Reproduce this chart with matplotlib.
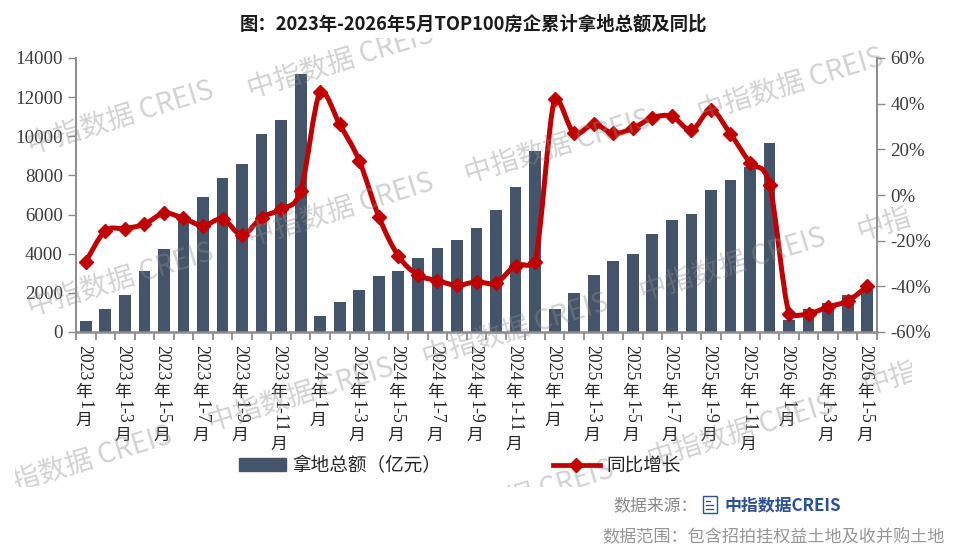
import re
import matplotlib
matplotlib.use('Agg')
from matplotlib import pyplot as plt
from matplotlib.lines import Line2D
from matplotlib.patches import PathPatch, Rectangle
from matplotlib.path import Path

CJK = 'Noto Sans CJK SC'
SERIF = 'Liberation Serif'
plt.rcParams['font.family'] = [CJK, 'DejaVu Sans']

# Cumulative land acquisition (100 million yuan) and year-on-year change (%).
periods = ['2023年1月', '2023年1-2月', '2023年1-3月', '2023年1-4月', '2023年1-5月', '2023年1-6月',
           '2023年1-7月', '2023年1-8月', '2023年1-9月', '2023年1-10月', '2023年1-11月', '2023年1-12月',
           '2024年1月', '2024年1-2月', '2024年1-3月', '2024年1-4月', '2024年1-5月', '2024年1-6月',
           '2024年1-7月', '2024年1-8月', '2024年1-9月', '2024年1-10月', '2024年1-11月', '2024年1-12月',
           '2025年1月', '2025年1-2月', '2025年1-3月', '2025年1-4月', '2025年1-5月', '2025年1-6月',
           '2025年1-7月', '2025年1-8月', '2025年1-9月', '2025年1-10月', '2025年1-11月', '2025年1-12月',
           '2026年1月', '2026年1-2月', '2026年1-3月', '2026年1-4月', '2026年1-5月']
amount = [560, 1160, 1870, 3110, 4250, 5700, 6890, 7860, 8570, 10120, 10840, 13190,
          820, 1515, 2160, 2840, 3110, 3780, 4300, 4710, 5310, 6210, 7400, 9270,
          1160, 2000, 2890, 3610, 4000, 5020, 5730, 6040, 7270, 7790, 8430, 9650,
          600, 1150, 1500, 1900, 2300]
growth = [-29.2, -15.7, -14.7, -12.8, -8.0, -10.2, -13.4, -10.5, -17.5, -9.9, -6.1, 1.9,
          45.2, 30.9, 15.0, -9.5, -26.7, -35.0, -37.5, -39.5, -38.0, -38.5, -30.9, -29.4,
          42.0, 27.0, 31.0, 27.0, 29.2, 33.8, 34.5, 28.4, 37.2, 26.7, 14.1, 4.4,
          -52.0, -52.0, -49.0, -46.4, -40.0]
left_ticks = [0, 2000, 4000, 6000, 8000, 10000, 12000, 14000]
right_ticks = [-60, -40, -20, 0, 20, 40, 60]
# Watermarks: wording and centre in pixels from the top-left corner.
mark_text = ['中指数据 CREIS'] * 7 + ['中指', '中指数据 CREIS', '中指数据 CREIS', '指数据 CREIS',
                                     '中指数据 CREIS', '中指', '中指数据 CREIS']
mark_x = [120, 340, 790, 340, 557, 120, 732, 884, 300, 515, 92, 740, 890, 520]
mark_y = [118, 62, 85, 210, 147, 280, 265, 224, 395, 330, 459, 432, 378, 497]

W, H = 960, 557
BAR = '#44546a'
RED = '#c00000'
AXIS = '#8c8c8c'
TEXT = '#3a3a3a'


def fx(x):
    return x / W


def fy(y):
    return 1 - y / H


def smooth_path(xs, ys):
    # Catmull-Rom style bezier through the points, handles kept close to each segment
    verts = [(xs[0], ys[0])]
    codes = [Path.MOVETO]
    n = len(xs)
    for i in range(n - 1):
        p0 = max(i - 1, 0)
        p3 = min(i + 2, n - 1)
        low = min(ys[i], ys[i + 1]) - 1.5
        high = max(ys[i], ys[i + 1]) + 1.5
        c1 = ys[i] + (ys[i + 1] - ys[p0]) / 6
        c2 = ys[i + 1] - (ys[p3] - ys[i]) / 6
        verts.append((xs[i] + (xs[i + 1] - xs[p0]) / 6, min(max(c1, low), high)))
        verts.append((xs[i + 1] - (xs[p3] - xs[i]) / 6, min(max(c2, low), high)))
        verts.append((xs[i + 1], ys[i + 1]))
        codes += [Path.CURVE4] * 3
    return Path(verts, codes)


def vertical_label(ax, x, label):
    # Stacked label: latin runs turned sideways, CJK glyphs kept upright
    offset = 13
    trans = ax.get_xaxis_transform()
    for run in re.findall(r'[0-9\-]+|[^0-9\-]+', label):
        if run[0] in '0123456789-':
            ax.annotate(run, xy=(x, 0), xycoords=trans, xytext=(-2, -offset), textcoords='offset pixels',
                        rotation=-90, ha='center', va='top', family=SERIF, fontsize=12.8,
                        color='#262626', annotation_clip=False)
            offset += sum(6.5 if c == '-' else 8.9 for c in run) + 2
        else:
            for ch in run:
                ax.annotate(ch, xy=(x, 0), xycoords=trans, xytext=(-2, -offset), textcoords='offset pixels',
                            ha='center', va='top', fontsize=12.2, color='#262626', annotation_clip=False)
                offset += 17


fig = plt.figure(figsize=(9.6, 5.57), dpi=100)
ax = fig.add_axes([fx(76), fy(332), (877 - 76) / W, (332 - 58) / H])
ax2 = ax.twinx()

xs = list(range(len(periods)))
ax.bar(xs, amount, width=0.6, color=BAR)
ax.set_xlim(-0.5, len(periods) - 0.5)
ax.set_ylim(0, 14000)
ax.set_yticks(left_ticks)
ax.set_xticks([x - 0.5 for x in range(len(periods) + 1)])
ax.set_xticklabels([])
ax.tick_params(axis='x', length=5.5, width=1.3, color=AXIS)
ax.tick_params(axis='y', length=5.5, width=1, color=AXIS, labelcolor=TEXT, labelsize=13.6, pad=4)
for lab in ax.get_yticklabels():
    lab.set_family(SERIF)

ax2.set_ylim(-60, 60)
ax2.set_yticks(right_ticks)
ax2.set_yticklabels([f'{v}%' for v in right_ticks])
ax2.tick_params(axis='y', length=5.5, width=1, color=AXIS, labelcolor=TEXT, labelsize=13.6, pad=4)
for lab in ax2.get_yticklabels():
    lab.set_family(SERIF)

ax2.add_patch(PathPatch(smooth_path(xs, growth), fill=False, edgecolor=RED, lw=3.6, capstyle='round'))
ax2.plot(xs, growth, ls='none', marker='D', ms=7.6, color=RED, mec=RED)

for a in (ax, ax2):
    a.spines['top'].set_visible(False)
    a.patch.set_visible(False)
    for side in ('left', 'right', 'bottom'):
        a.spines[side].set_color(AXIS)
        a.spines[side].set_linewidth(1.2)
ax.spines['bottom'].set_linewidth(1.8)
ax2.spines['bottom'].set_visible(False)

for x in xs[::2][:6] + xs[12::2][:6] + xs[24::2][:6] + xs[36::2]:
    vertical_label(ax, x, periods[x])

handles = [Rectangle((0, 0), 1, 1, color=BAR),
           Line2D([], [], color=RED, lw=3.4, marker='D', ms=7)]
fig.legend(handles, ['拿地总额（亿元）', '同比增长'], loc='center', bbox_to_anchor=(fx(460), fy(466)),
           ncol=2, frameon=False, fontsize=13.4, labelcolor='#262626', handlelength=2.5, handleheight=0.7,
           handletextpad=0.35, columnspacing=6.0, borderpad=0, borderaxespad=0)

fig.text(fx(473), fy(24), '图：2023年-2026年5月TOP100房企累计拿地总额及同比', ha='center', va='center',
         fontsize=13.2, fontweight='bold', color='#1a1a1a')

fig.text(fx(613), fy(505), '数据来源：', va='center', fontsize=12.2, color='#8a8a8a')
fig.text(fx(725), fy(505), '中指数据CREIS', va='center', fontsize=12.2, fontweight='bold', color='#2c4f96')
fig.text(fx(602), fy(536), '数据范围：包含招拍挂权益土地及收并购土地', va='center', fontsize=12.3, color='#969696')

# Document icon beside the source name
fig.add_artist(Rectangle((fx(703), fy(513)), 14 / W, 17 / H, transform=fig.transFigure,
                         fill=False, edgecolor='#2c4f96', lw=1))
for yy, x1 in [(501, 710), (505, 713), (509, 713)]:
    fig.add_artist(Line2D([fx(706), fx(x1)], [fy(yy), fy(yy)], color='#2c4f96', lw=0.9))

# Repeating watermark, limited to the chart image area
clip = Rectangle((fx(15), fy(487)), (912 - 15) / W, (487 - 38) / H, transform=fig.transFigure)
for text, mx, my in zip(mark_text, mark_x, mark_y):
    t = fig.text(fx(mx), fy(my), text, ha='center', va='center', rotation=17,
                 rotation_mode='anchor', fontsize=20, fontweight='light', color='#8f8f8f', alpha=0.4)
    t.set_clip_path(clip)
    t.set_clip_on(True)

fig.savefig('out.png', dpi=100)
